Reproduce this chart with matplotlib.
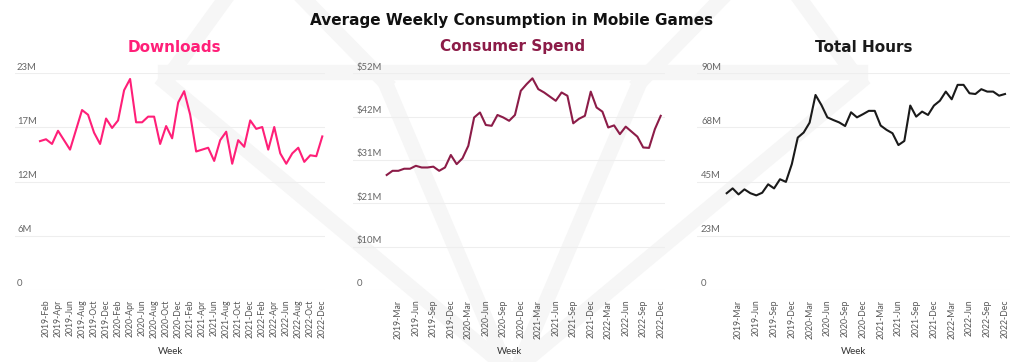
import matplotlib
matplotlib.use("Agg")
import matplotlib.pyplot as plt
import numpy as np
from matplotlib.lines import Line2D
from matplotlib.transforms import blended_transform_factory, offset_copy

# ---------------- data ----------------
years = [2019, 2020, 2021, 2022]
month_names = ["Jan", "Feb", "Mar", "Apr", "May", "Jun",
               "Jul", "Aug", "Sep", "Oct", "Nov", "Dec"]

downloads = [15.8, 16.0, 15.5, 16.9, 15.9, 14.9, 17.0, 19.1, 18.6, 16.7,
             15.5, 18.2, 17.2, 18.0, 21.2, 22.4, 17.8, 17.8, 18.4, 18.4,
             15.5, 17.4, 16.1, 19.9, 21.1, 18.6, 14.7, 14.9, 15.1, 13.7,
             15.9, 16.8, 13.4, 15.9, 15.2, 18.0, 17.1, 17.3, 14.9, 17.3,
             14.5, 13.4, 14.5, 15.1, 13.6, 14.3, 14.2, 16.3]

spend = [27.6, 28.6, 28.6, 29.1, 29.1, 29.8, 29.4, 29.4, 29.6, 28.6,
         29.4, 32.4, 30.2, 31.6, 34.6, 41.4, 42.6, 39.6, 39.4, 42.0,
         41.4, 40.6, 42.0, 47.8, 49.4, 50.8, 48.2, 47.4, 46.4, 45.4,
         47.4, 46.6, 40.0, 41.1, 41.8, 47.6, 43.8, 42.8, 39.0, 39.5,
         37.4, 39.2, 38.0, 36.8, 34.2, 34.1, 38.6, 41.8]

hours = [40.2, 42.2, 39.7, 41.8, 40.2, 39.3, 40.4, 43.9, 42.2, 46.0,
         44.9, 52.3, 63.3, 65.4, 69.5, 81.0, 76.8, 71.7, 70.6, 69.6,
         68.1, 73.8, 71.7, 73.0, 74.4, 74.4, 68.3, 66.5, 65.1, 60.2,
         61.9, 76.6, 72.0, 74.1, 72.7, 76.6, 78.6, 82.4, 79.2, 85.2,
         85.2, 81.7, 81.4, 83.4, 82.4, 82.4, 80.7, 81.4]

dl_yticks = [0, 5.75, 11.5, 17.25, 23]
dl_ylabels = ["0", "6M", "12M", "17M", "23M"]
sp_yticks = [0, 10.4, 20.8, 31.2, 41.6, 52]
sp_ylabels = ["0", "$10M", "$21M", "$31M", "$42M", "$52M"]
hr_yticks = [0, 22.5, 45, 67.5, 90]
hr_ylabels = ["0", "23M", "45M", "68M", "90M"]

titles = ["Downloads", "Consumer Spend", "Total Hours"]
colors = ["#FF1F78", "#8C1C48", "#1A1A1A"]
main_title = "Average Weekly Consumption in Mobile Games"

months = [f"{y}-{m}" for y in years for m in month_names]
x = np.arange(len(months))

# ---------------- figure ----------------
W, H = 1024, 362
fig = plt.figure(figsize=(W / 100, H / 100), dpi=100)
fig.patch.set_facecolor("white")

def rect(l, r, t, b):
    return [l / W, 1 - b / H, (r - l) / W, (b - t) / H]

def fx(px):
    return px / W

def fy(py):
    return 1 - py / H

# very faint watermark (diamond outline)
wm = "#f6f6f6"
wm_paths = [
    [(228, -5), (165, 82), (512, 372), (860, 82), (797, -5)],
    [(165, 72), (860, 72)],
    [(385, 82), (508, 372)],
    [(640, 82), (516, 372)],
    [(300, -5), (385, 82)],
    [(725, -5), (640, 82)],
]
for p in wm_paths:
    xs = [fx(a) for a, b in p]
    ys = [fy(b) for a, b in p]
    fig.add_artist(Line2D(xs, ys, transform=fig.transFigure, color=wm,
                          lw=11, solid_joinstyle="miter", zorder=0))

panels = [
    dict(l=15, r=325, x0=40.0, x1=322.3, data=downloads, yt=dl_yticks,
         yl=dl_ylabels, ymax=23, tstart=1, tstep=2, lab_dx=2, tdx=4),
    dict(l=353, r=665, x0=386.7, x1=660.7, data=spend, yt=sp_yticks,
         yl=sp_ylabels, ymax=52, tstart=2, tstep=3, lab_dx=4, tdx=4),
    dict(l=697, r=1010, x0=726.7, x1=1005.0, data=hours, yt=hr_yticks,
         yl=hr_ylabels, ymax=90, tstart=2, tstep=3, lab_dx=4, tdx=10),
]

tick_font = "Lato"
for i, p in enumerate(panels):
    ax = fig.add_axes(rect(p["l"], p["r"], 73.3, 290))
    ax.set_facecolor("none")
    ppu = (p["x1"] - p["x0"]) / (len(x) - 1)
    ax.set_xlim(-(p["x0"] - p["l"]) / ppu, (len(x) - 1) + (p["r"] - p["x1"]) / ppu)
    ax.set_ylim(0, p["ymax"])
    ax.plot(x, p["data"], color=colors[i], lw=1.5, solid_joinstyle="round", zorder=3)
    for s in ax.spines.values():
        s.set_visible(False)
    ax.set_yticks(p["yt"])
    ax.yaxis.grid(True, color="#eeeeee", lw=0.8, zorder=0)
    ax.tick_params(axis="y", length=0, labelleft=False)
    trans = offset_copy(blended_transform_factory(ax.transAxes, ax.transData),
                        fig=fig, x=p["lab_dx"] * 0.72, y=1.2, units="points")
    for v, lab in zip(p["yt"], p["yl"]):
        ax.text(0, v, lab, transform=trans, ha="left", va="bottom",
                fontsize=6.8, color="#666666", family=tick_font)
    tk = x[p["tstart"]::p["tstep"]]
    ax.set_xticks(tk)
    ax.set_xticklabels([months[k] for k in tk], rotation=90, fontsize=6.2,
                       color="#555555", family=tick_font)
    ax.tick_params(axis="x", length=0, pad=7)
    ax.set_xlabel("Week", fontsize=7, color="#333333", family=tick_font, labelpad=6)
    cx = (p["l"] + p["r"]) / 2
    fig.text(fx(cx + p["tdx"]), fy(47), titles[i], ha="center",
             va="center", fontsize=11, fontweight="bold", color=colors[i])

fig.text(0.5, fy(20), main_title, ha="center", va="center", fontsize=11,
         fontweight="bold", color="#111111")

fig.savefig("out.png", dpi=100, facecolor="white")
